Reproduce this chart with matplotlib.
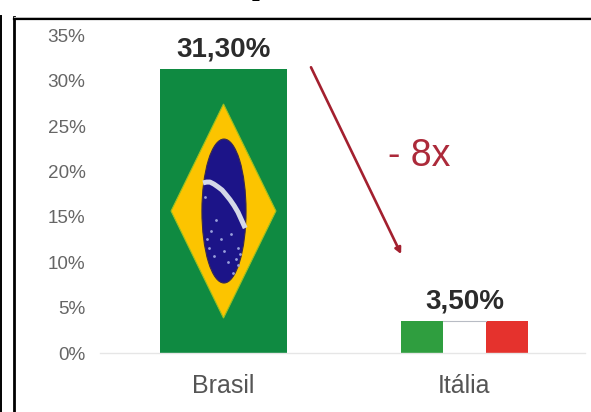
import numpy as np
import matplotlib
matplotlib.use("Agg")
import matplotlib.pyplot as plt
from matplotlib.lines import Line2D
from matplotlib.patches import Polygon, Ellipse

plt.rcParams['font.family'] = ['Liberation Sans', 'DejaVu Sans']

# Chart data
countries = ["Brasil", "Itália"]
shares = [31.3, 3.5]
share_labels = ["31,30%", "3,50%"]
y_ticks = [0, 5, 10, 15, 20, 25, 30, 35]
y_tick_labels = ["0%", "5%", "10%", "15%", "20%", "25%", "30%", "35%"]
ratio_label = "- 8x"

# Flag colours
BR_GREEN, BR_YELLOW, BR_BLUE = "#0f8a41", "#fcc400", "#1c1488"
IT_GREEN, IT_RED = "#2f9e3f", "#e5322d"
ARROW_RED = "#a3202f"

W, H = 591, 412
fig = plt.figure(figsize=(W / 100, H / 100), dpi=100, facecolor="white")

# Plot area in pixel terms
left, right, top, bottom = 100, 585, 35.5, 353
ax = fig.add_axes([left / W, 1 - bottom / H, (right - left) / W, (bottom - top) / H])
bar_w = 0.527
ax.set_xlim((left - 223.5) / 241, (right - 223.5) / 241)
ax.set_ylim(0, 35)
for s in ("top", "right", "left"):
    ax.spines[s].set_visible(False)
ax.spines["bottom"].set_color("#e6e6e6")
ax.spines["bottom"].set_linewidth(1.0)
ax.set_xticks(range(len(countries)), countries, fontsize=18, color="#555555")
ax.set_yticks(y_ticks, y_tick_labels, fontsize=13.6, color="#666666")
ax.tick_params(length=0)
ax.tick_params(axis="x", pad=15)
ax.tick_params(axis="y", pad=10.5)

# Brazilian flag filling the first bar
h0 = shares[0]
x0 = 0 - bar_w / 2
ax.bar(0, h0, bar_w, color=BR_GREEN, zorder=2)
ax.add_patch(Polygon([(x0 + .087 * bar_w, .5 * h0), (0, .877 * h0),
                      (x0 + .913 * bar_w, .5 * h0), (0, .123 * h0)],
                     closed=True, fc=BR_YELLOW, ec="#9cc020", lw=0.8, zorder=3))
ax.add_patch(Ellipse((0.002, .5 * h0), .183, .507 * h0, fc=BR_BLUE, ec="#3a2a50", lw=0.8, zorder=4))
band_x = np.array([-.085, -.07, -.056, -.04, -.023, -.006, .01, .027, .044, .06, .075, .09])
band_y = np.array([.599, .602, .602, .595, .585, .574, .558, .54, .519, .496, .468, .44]) * h0
ax.plot(band_x, band_y, color="#d4d8e8", lw=3.6, solid_capstyle="butt", zorder=5)
star_x = [-.03, -.07, -.06, -.01, .03, .06, -.04, .02, .06, .04, .07, -.075, -.05, .05, 0.0]
star_y = [.47, .40, .37, .40, .42, .37, .34, .32, .31, .28, .35, .55, .43, .33, .36]
ax.scatter(star_x, np.array(star_y) * h0, s=4, color="#9aa0dc", lw=0, zorder=6)

# Italian flag filling the second bar
h1 = shares[1]
third = bar_w / 3
ax.bar(1 - third, h1, third, color=IT_GREEN, zorder=2)
ax.bar(1, h1, third, color="white", zorder=2)
ax.bar(1 + third, h1, third, color=IT_RED, zorder=2)
ax.plot([1 - third / 2, 1 + third / 2], [h1, h1], color="#b8bcc4", lw=0.8, zorder=3)

# Value labels above the bars
for i, (v, lab) in enumerate(zip(shares, share_labels)):
    ax.annotate(lab, (i, v), xytext=(0, 5), textcoords="offset points", ha="center", va="bottom",
                fontsize=20, fontweight="bold", color="#2b2b2b", clip_on=False)

# Drop annotation between the two bars
ax.annotate("", xy=(0.737, 10.9), xytext=(0.363, 31.5),
            arrowprops=dict(arrowstyle="-|>,head_length=0.35,head_width=0.18", color=ARROW_RED,
                            lw=1.9, shrinkA=0, shrinkB=0))
ax.text(0.814, 21.7, ratio_label, fontsize=27, color="#ac2a3a", ha="center", va="center")

# Frame lines around the chart
fig.add_artist(Line2D([14.5 / W, 14.5 / W], [0, 1 - 17 / H], color="black", lw=2.0))
fig.add_artist(Line2D([14 / W, 1], [1 - 18.5 / H, 1 - 18.5 / H], color="black", lw=1.6))
fig.add_artist(Line2D([14 / W, 1], [1 - 17 / H, 1 - 17 / H], color="#bbbbbb", lw=0.7))
fig.add_artist(Line2D([0.5 / W, 0.5 / W], [0, 1 - 16 / H], color="black", lw=1.4))

# Lower stroke of the heading letter running off the top edge
fig.text(259 / W, 1 + 5 / H, "p", fontsize=20, fontweight="bold", family="Liberation Serif",
         ha="center", va="baseline", color="black")

fig.savefig("out.png", dpi=100)
